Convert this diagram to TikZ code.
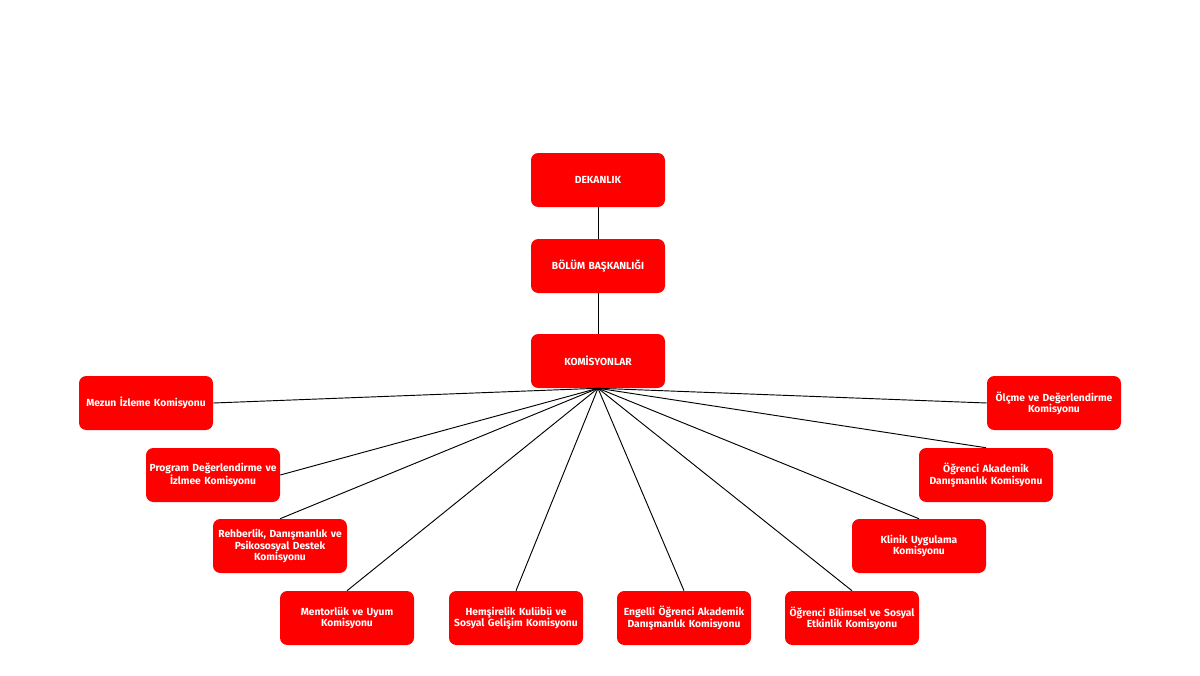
\documentclass[tikz,border=0pt]{standalone}
\usepackage{fontspec}
\setmainfont{Fira Sans}
\begin{document}
\begin{tikzpicture}[x=0.75pt,y=-0.75pt,
  box/.style={draw=none,fill=boxred,rounded corners=5.5pt,minimum width=100.5pt,minimum height=40.5pt,
    text width=98pt,align=center,text=white,font=\fontsize{7.7}{8.4}\selectfont\bfseries,inner sep=0pt},
  link/.style={draw=black,line width=0.7pt}]
\definecolor{boxred}{HTML}{FF0000}
\useasboundingbox (0,0) rectangle (1200,675);
\node[box] (dek) at (598,180) {DEKANLIK};
\node[box] (bol) at (598,266) {BÖLÜM BAŞKANLIĞI};
\node[box] (kom) at (598,361) {KOMİSYONLAR};
\node[box] (mez) at (146,403) {Mezun İzleme Komisyonu};
\node[box] (prg) at (213,475) {Program Değerlendirme ve\\İzlmee Komisyonu};
\node[box] (reh) at (280,546) {Rehberlik, Danışmanlık ve\\Psikososyal Destek\\Komisyonu};
\node[box] (men) at (347,618) {Mentorlük ve Uyum\\Komisyonu};
\node[box] (hem) at (516,618) {Hemşirelik Kulübü ve\\Sosyal Gelişim Komisyonu};
\node[box] (eng) at (684,618) {Engelli Öğrenci Akademik\\Danışmanlık Komisyonu};
\node[box] (bil) at (852,618) {Öğrenci Bilimsel ve Sosyal\\Etkinlik Komisyonu};
\node[box] (kli) at (919,546) {Klinik Uygulama\\Komisyonu};
\node[box] (aka) at (986,475) {Öğrenci Akademik\\Danışmanlık Komisyonu};
\node[box] (olc) at (1054,403) {Ölçme ve Değerlendirme\\Komisyonu};
\draw[link] (dek.south) -- (bol.north);
\draw[link] (bol.south) -- (kom.north);
\draw[link] (kom.south) -- (mez.east);
\draw[link] (kom.south) -- (prg.east);
\draw[link] (kom.south) -- (reh.north);
\draw[link] (kom.south) -- (men.north);
\draw[link] (kom.south) -- (hem.north);
\draw[link] (kom.south) -- (eng.north);
\draw[link] (kom.south) -- (bil.north);
\draw[link] (kom.south) -- (kli.north);
\draw[link] (kom.south) -- (aka.north);
\draw[link] (kom.south) -- (olc.west);
\end{tikzpicture}
\end{document}
